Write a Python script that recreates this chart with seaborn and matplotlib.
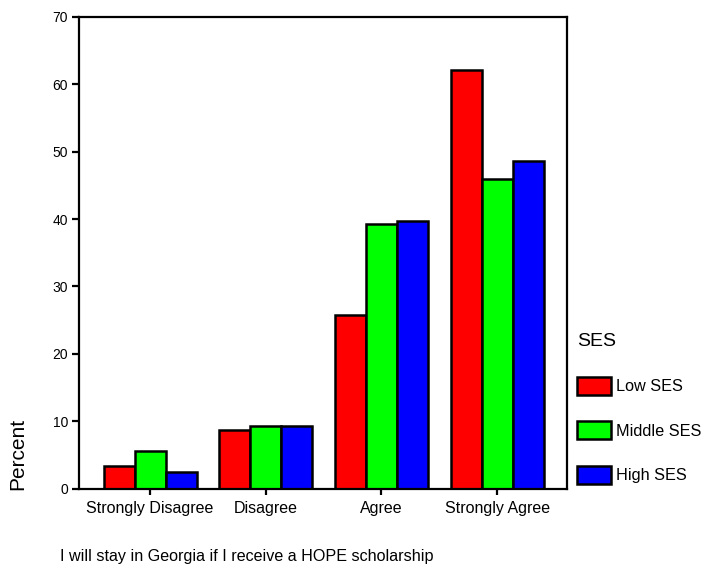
import matplotlib
matplotlib.use("Agg")
import matplotlib.pyplot as plt
from matplotlib import font_manager
import seaborn as sns
import pandas as pd

categories = ["Strongly Disagree", "Disagree", "Agree", "Strongly Agree"]
groups = ["Low SES", "Middle SES", "High SES"]
low_ses = [3.4, 8.7, 25.8, 62.1]
middle_ses = [5.5, 9.3, 39.3, 45.9]
high_ses = [2.4, 9.3, 39.7, 48.6]
y_ticks = [0, 10, 20, 30, 40, 50, 60, 70]
colors = ["#FF0000", "#00FF00", "#0000FF"]

rows = []
for g, vals in zip(groups, [low_ses, middle_ses, high_ses]):
    for c, v in zip(categories, vals):
        rows.append({"answer": c, "SES": g, "Percent": v})
df = pd.DataFrame(rows)

sns.set_style("ticks")
plt.rcParams["font.family"] = ["Liberation Sans", "DejaVu Sans"]
for k in ["text.color", "axes.labelcolor", "xtick.color", "ytick.color", "axes.edgecolor"]:
    plt.rcParams[k] = "black"

fig = plt.figure(figsize=(7.01, 5.69), dpi=100)
ax = fig.add_axes([79 / 701, 1 - 488.5 / 569, 488 / 701, 471.5 / 569])

sns.barplot(data=df, x="answer", y="Percent", hue="SES", order=categories,
            hue_order=groups, palette=colors, edgecolor="black", linewidth=1.8,
            width=0.804, gap=0, saturation=1, ax=ax, legend=True)

ax.set_ylim(0, 70)
ax.set_yticks(y_ticks)
ax.set_xlim(-0.614, 3.604)
for s in ax.spines.values():
    s.set_visible(True)
    s.set_linewidth(1.6)
    s.set_color("black")
ax.tick_params(axis="y", length=5, width=1.6, labelsize=10, pad=3, colors="black")
ax.tick_params(axis="x", length=4, width=1.6, labelsize=11.5, pad=5, colors="black")

narrow = any("Liberation Sans Narrow" in f.name for f in font_manager.fontManager.ttflist)
if narrow:
    ax.set_xlabel("I will stay in Georgia if I receive a HOPE scholarship",
                  fontsize=13.7, family=["Liberation Sans Narrow", "DejaVu Sans"])
else:
    ax.set_xlabel("I will stay in Georgia if I receive a HOPE scholarship", fontsize=11.6)
ax.xaxis.label.set_horizontalalignment("left")
ax.xaxis.set_label_coords((60 - 79) / 488, (488.5 - 549) / 471.5)

ax.set_ylabel("Percent", fontsize=15)
ax.yaxis.label.set_verticalalignment("center")
ax.yaxis.set_label_coords((18 - 79) / 488, (488.5 - 454) / 471.5)

handles, labels = ax.get_legend_handles_labels()
if ax.legend_:
    ax.legend_.remove()
leg = fig.legend(handles, labels, title="SES", loc="upper left",
                 bbox_to_anchor=(574 / 701, 1 - 330 / 569), frameon=False,
                 fontsize=11.7, title_fontsize=14, handlelength=2.09,
                 handleheight=1.35, labelspacing=1.62, handletextpad=0.3,
                 borderaxespad=0, borderpad=0.2)
leg._legend_box.align = "left"
for h in leg.get_patches():
    h.set_edgecolor("black")
    h.set_linewidth(1.8)

fig.savefig("out.png", dpi=100)
